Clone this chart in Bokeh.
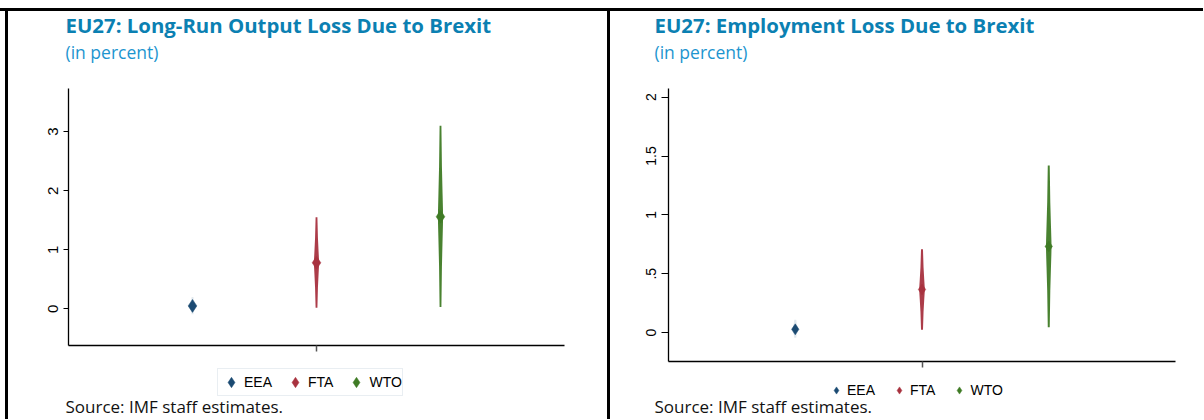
import numpy as np
from bokeh.plotting import figure
from bokeh.models import (Range1d, FixedTicker, CustomJSTickFormatter, Label,
                          Legend, LegendItem, Div)
from bokeh.layouts import row, column
from bokeh.embed import file_html
from bokeh.resources import INLINE

# ---------------- data ----------------
categories = ["EEA", "FTA", "WTO"]
cat_pos = [1, 2, 3]
x_limits = (0, 4)

output_mid = [0.05, 0.78, 1.56]
output_low = [-0.09, 0.02, 0.03]
output_high = [0.20, 1.55, 3.10]
output_ylim = (-0.62, 3.73)

employment_mid = [0.027, 0.366, 0.732]
employment_low = [-0.045, 0.023, 0.045]
employment_high = [0.108, 0.708, 1.42]
employment_ylim = (-0.242, 2.074)

output_yticks = [0, 1, 2, 3]
employment_yticks = [0, 0.5, 1, 1.5, 2]

titles = ["EU27: Long-Run Output Loss Due to Brexit",
          "EU27: Employment Loss Due to Brexit"]
subtitle = "(in percent)"
source_note = "Source: IMF staff estimates."

# ---------------- style ----------------
COLORS = ["#1b4a72", "#a8323f", "#3f7b25"]
SPINDLE_ALPHA = [0.12, 0.95, 0.95]
TITLE_COLOR = "#0b80b2"
SUB_COLOR = "#1d95cf"
PROFILE_T = [1.0, 0.55, 0.25, 0.08, 0.0]
PROFILE_W = [0.35, 0.55, 0.8, 0.95, 1.0]


def spindle(xc, lo, mid, hi, half_w):
    top = [(xc + half_w * w, mid + t * (hi - mid)) for t, w in zip(PROFILE_T, PROFILE_W)]
    bot = [(xc + half_w * w, mid - t * (mid - lo))
           for t, w in zip(reversed(PROFILE_T[:-1]), reversed(PROFILE_W[:-1]))]
    right = top + bot
    left = [(2 * xc - x, y) for x, y in reversed(right)]
    pts = right + left
    return [q[0] for q in pts], [q[1] for q in pts]


def make_panel(W, H, box, ylim, yticks, mid, lo, hi, title, text_x, ys,
               marker_size, hw_px, leg, tick_fs, tick_out, tick_standoff):
    # box = canvas px of (x_limits[0], x_limits[1]) and rows of (ylim[0], ylim[1])
    px0, px1, py0, py1 = box
    x0, x1 = x_limits
    y0, y1 = ylim
    sx = (px1 - px0) / (x1 - x0)
    sy = (py0 - py1) / (y1 - y0)
    xr = Range1d(x0 - px0 / sx, x1 + (W - px1) / sx)
    yr = Range1d(y0 - (H - py0) / sy, y1 + py1 / sy)

    p = figure(width=W, height=H, output_backend="svg", toolbar_location=None,
               x_range=xr, y_range=yr,
               min_border=0, min_border_left=0, min_border_right=0,
               min_border_top=0, min_border_bottom=0)
    p.outline_line_color = None
    p.grid.visible = False
    p.background_fill_color = "white"
    p.border_fill_color = "white"
    hw = hw_px / sx

    xs_list, ys_list = [], []
    for i in range(len(categories)):
        xs, yv = spindle(cat_pos[i], lo[i], mid[i], hi[i], hw)
        xs_list.append(xs)
        ys_list.append(yv)
    p.patches(xs_list, ys_list, fill_color=COLORS, fill_alpha=SPINDLE_ALPHA,
              line_color=None)

    renderers = []
    for i, c in enumerate(categories):
        r = p.scatter(x=[cat_pos[i]], y=[mid[i]], marker="diamond", size=marker_size,
                      fill_color=COLORS[i], line_color=COLORS[i], line_width=0.5)
        renderers.append(r)

    # axes (fixed at the data edges of the plotting box)
    p.xaxis.fixed_location = y0
    p.xaxis.bounds = (x0, x1)
    p.xaxis.ticker = FixedTicker(ticks=[2])
    p.xaxis.formatter = CustomJSTickFormatter(code="return ''")
    p.xaxis.major_tick_out = 6
    p.xaxis.major_tick_in = 0
    p.xaxis.major_tick_line_color = "#555555"
    p.xaxis.major_tick_line_width = 1.5
    p.xaxis.axis_line_color = "black"
    p.xaxis.axis_line_width = 1.3
    p.axis.minor_tick_line_color = None

    p.yaxis.fixed_location = x0
    p.yaxis.bounds = (y0, y1)
    p.yaxis.ticker = FixedTicker(ticks=yticks)
    p.yaxis.formatter = CustomJSTickFormatter(
        code="var s = tick.toString(); return s.startsWith('0.') ? s.slice(1) : s;")
    p.yaxis.major_label_orientation = "parallel"
    p.yaxis.major_label_text_font = "Liberation Sans"
    p.yaxis.major_label_text_font_size = tick_fs
    p.yaxis.major_label_text_color = "black"
    p.yaxis.major_label_standoff = tick_standoff
    p.yaxis.major_tick_out = tick_out
    p.yaxis.major_tick_in = 0
    p.yaxis.major_tick_line_color = "black"
    p.yaxis.axis_line_color = "black"
    p.yaxis.axis_line_width = 1.3

    # texts (screen px from the canvas bottom-left)
    p.add_layout(Label(x=text_x, y=ys[0], x_units="screen", y_units="screen",
                       text=title, text_font="Open Sans", text_font_style="bold",
                       text_font_size="20.4px", text_color=TITLE_COLOR,
                       text_baseline="alphabetic", text_align="left"))
    p.add_layout(Label(x=text_x, y=ys[1], x_units="screen", y_units="screen",
                       text=subtitle, text_font="Open Sans",
                       text_font_size="17.5px", text_color=SUB_COLOR,
                       text_baseline="alphabetic", text_align="left"))
    p.add_layout(Label(x=text_x, y=ys[2], x_units="screen", y_units="screen",
                       text=source_note, text_font="Open Sans",
                       text_font_size="17px", text_color="#111111",
                       text_baseline="alphabetic", text_align="left"))

    legend = Legend(items=[LegendItem(label=c, renderers=[renderers[i]])
                           for i, c in enumerate(categories)],
                    orientation="horizontal", location=leg["loc"],
                    glyph_width=leg["gw"], glyph_height=leg["gw"],
                    label_height=leg["gw"], label_width=10,
                    label_standoff=leg["standoff"], spacing=leg["spacing"],
                    padding=0, margin=0,
                    label_text_font="Liberation Sans", label_text_font_size="14px",
                    label_text_color="black",
                    border_line_color=leg["border"], border_line_width=1,
                    background_fill_color="white",
                    background_fill_alpha=1.0)
    p.add_layout(legend, "center")
    return p


W1, W2, H = 599, 593, 408

p1 = make_panel(W1, H, (60, 556, 334, 77), output_ylim, output_yticks,
                output_mid, output_low, output_high, titles[0],
                57, (394.5, 367.5, 13.5), 13, 2.6,
                dict(loc=(209, 23), gw=26, standoff=-2, spacing=10, border="#d3dee6"),
                "15px", 5, 5)

p2 = make_panel(W2, H, (58, 565, 349.5, 77), employment_ylim, employment_yticks,
                employment_mid, employment_low, employment_high, titles[1],
                44, (394.5, 367.5, 13), 11, 2.8,
                dict(loc=(217, 20), gw=18, standoff=2, spacing=15, border=None),
                "14px", 7, 5)

BAR = {"background-color": "black"}
top_space = Div(text="", width=1203, height=8, margin=0)
top_border = Div(text="", width=1203, height=3, margin=0, styles=BAR)
left_space = Div(text="", width=5, height=H, margin=0)
left_border = Div(text="", width=3, height=H, margin=0, styles=BAR)
mid_border = Div(text="", width=3, height=H, margin=0, styles=BAR)

layout = column(top_space, top_border,
                row(left_space, left_border, p1, mid_border, p2, spacing=0),
                spacing=0)

open("out.html", "w").write(file_html(layout, INLINE))
